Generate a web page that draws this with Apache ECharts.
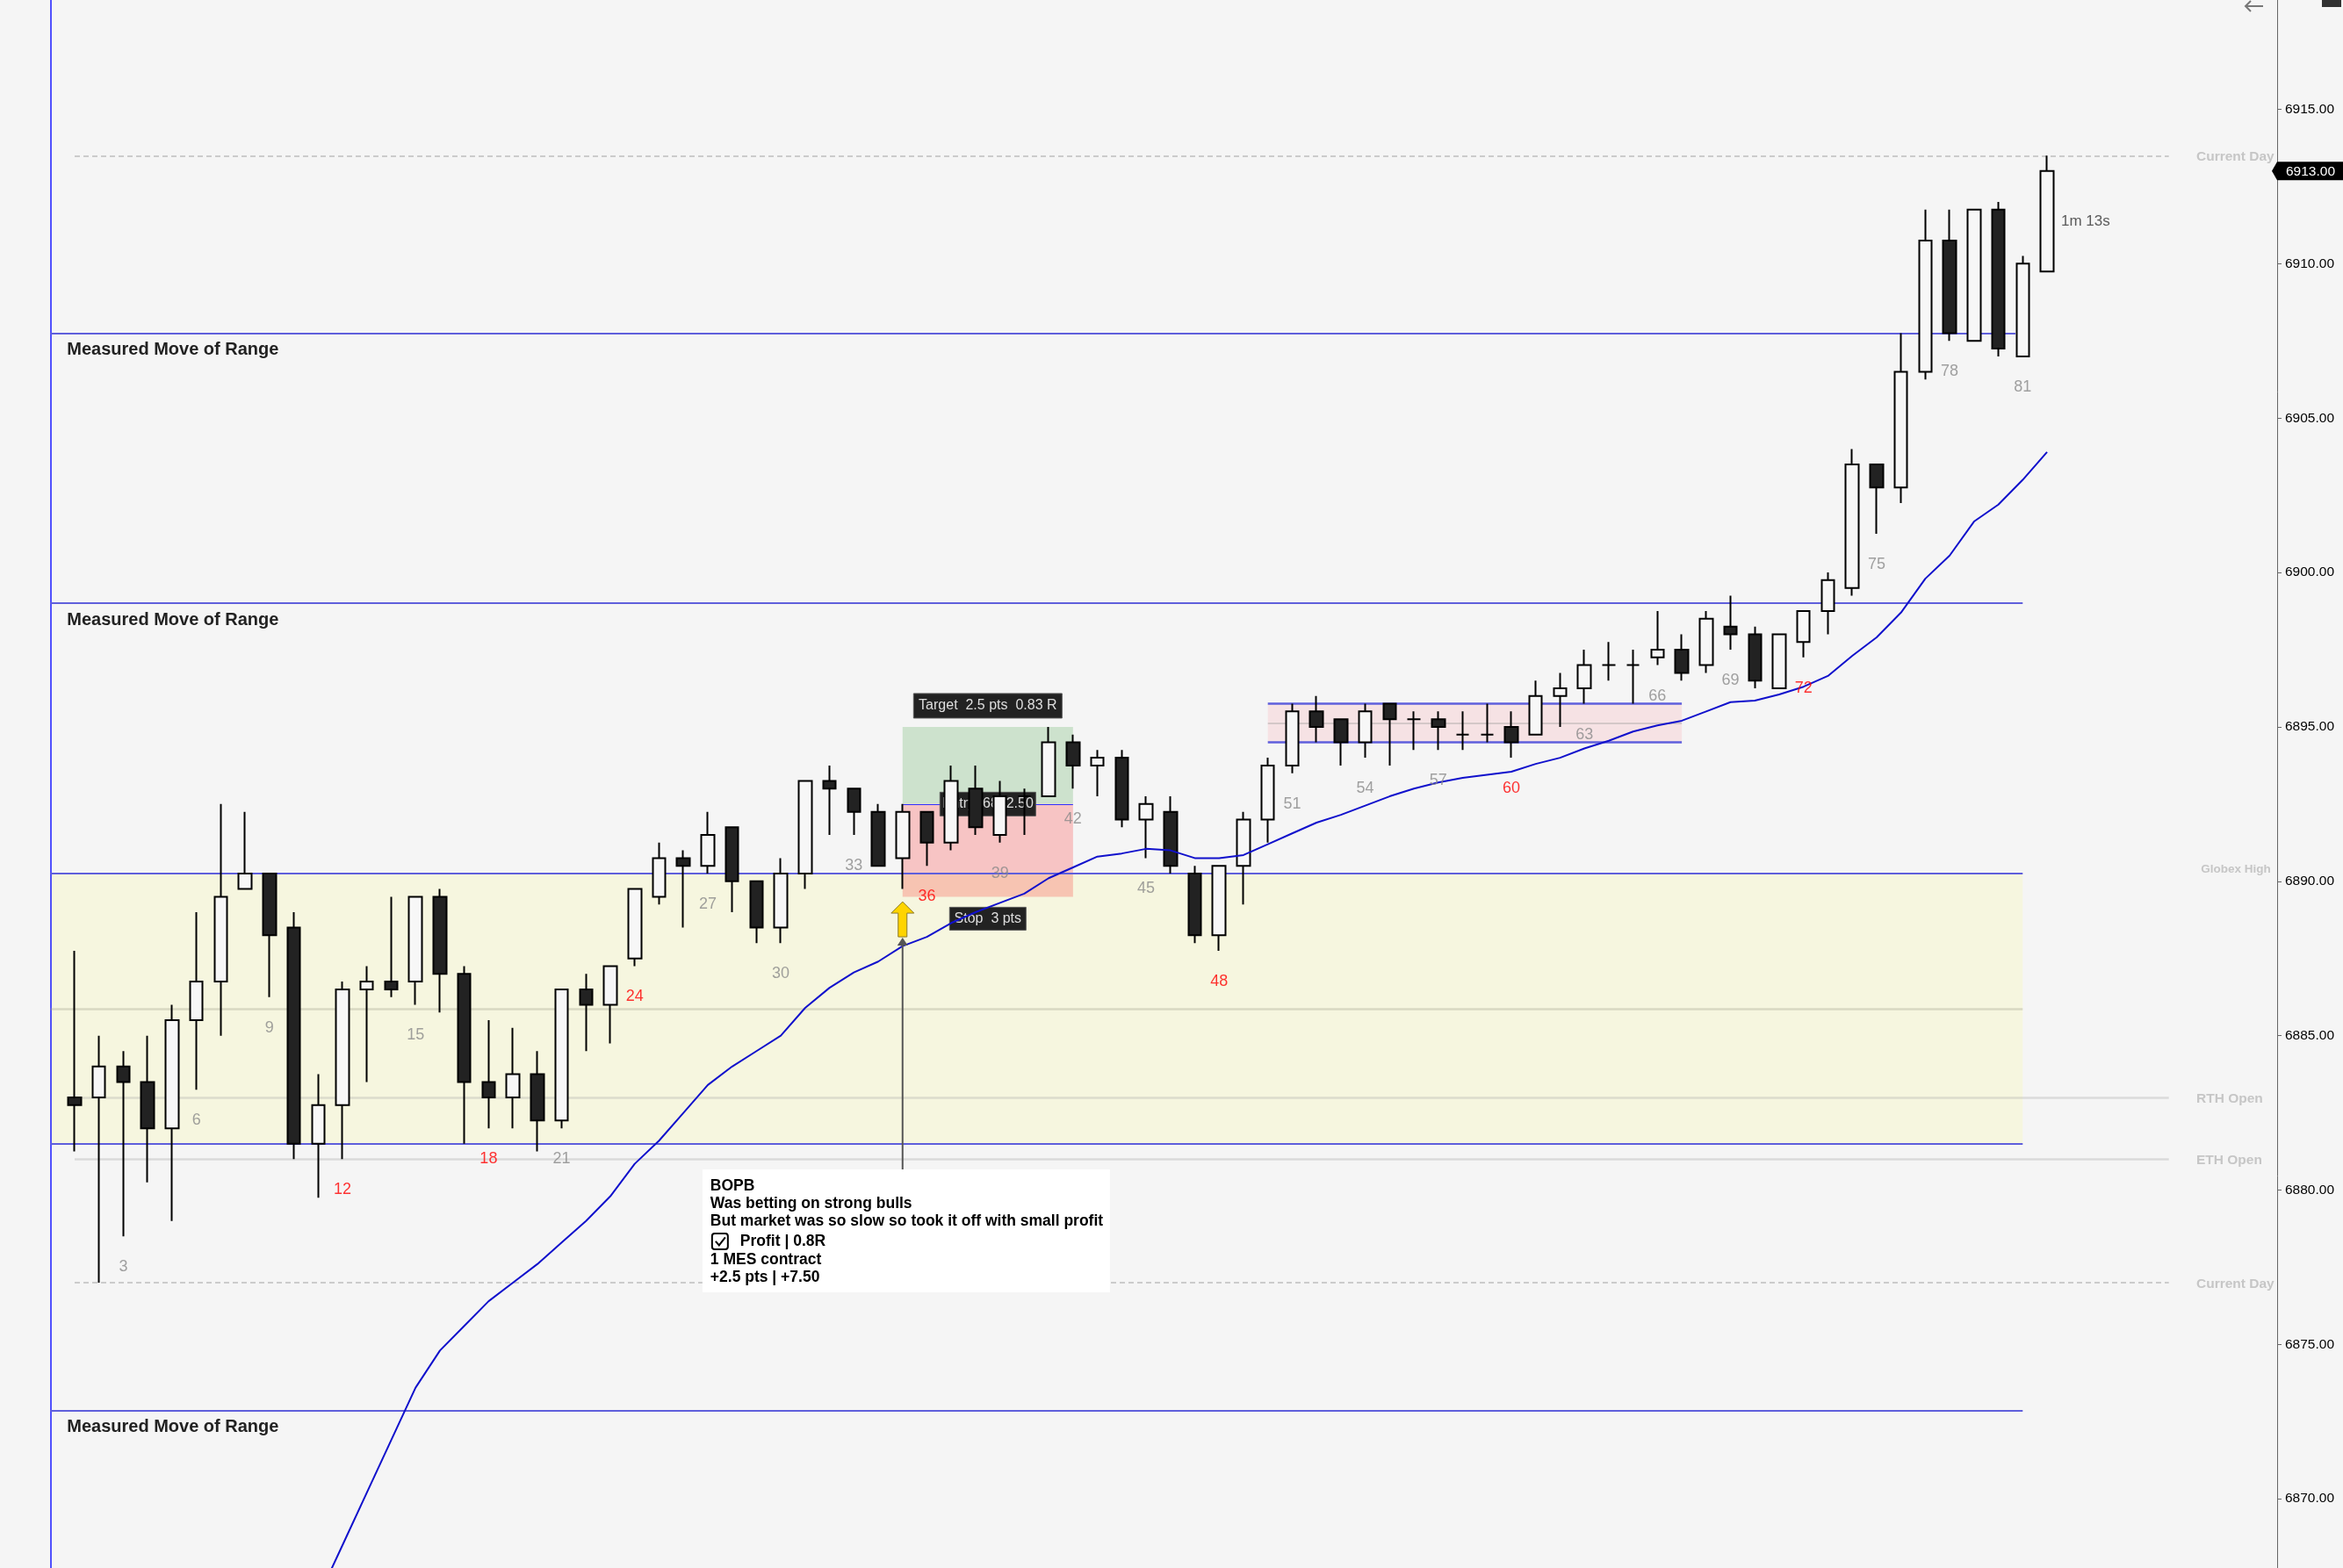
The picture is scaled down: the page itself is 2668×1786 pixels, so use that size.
<!DOCTYPE html>
<html><head><meta charset="utf-8">
<script src="https://cdn.jsdelivr.net/npm/echarts@6/dist/echarts.min.js"></script>
<style>html,body{margin:0;padding:0;background:#f5f5f5;}#c{width:2668px;height:1786px;}</style>
</head><body><div id="c"></div>
<script>
// ---------- DATA ----------
const opens  = [6883,6883,6884,6883.5,6882,6885.5,6886.75,6889.75,6890.25,6888.5,
  6881.5,6882.75,6886.5,6886.75,6886.75,6889.5,6887,6883.5,6883,6883.75,
  6882.25,6886.5,6886,6887.5,6889.5,6890.75,6890.5,6891.75,6890,6888.5,
  6890.25,6893.25,6893,6892.25,6890.75,6892.25,6891.25,6893,6891.5,6892.75,
  6892.75,6894.5,6893.75,6894,6892,6892.25,6890.25,6888.25,6890.5,6892,
  6893.75,6895.5,6895.25,6894.5,6895.75,6895.25,6895.25,6894.75,6894.75,6895,
  6894.75,6896,6896.25,6897,6897,6897.25,6897.5,6897,6898.25,6898,
  6896.25,6897.75,6898.75,6899.5,6903.5,6902.75,6906.5,6910.75,6907.5,6911.75,
  6907,6909.75];
const closes = [6882.75,6884,6883.5,6882,6885.5,6886.75,6889.5,6890.25,6888.25,6881.5,
  6882.75,6886.5,6886.75,6886.5,6889.5,6887,6883.5,6883,6883.75,6882.25,
  6886.5,6886,6887.25,6889.75,6890.75,6890.5,6891.5,6890,6888.5,6890.25,
  6893.25,6893,6892.25,6890.5,6892.25,6891.25,6893.25,6891.75,6892.75,6892.75,
  6894.5,6893.75,6894,6892,6892.5,6890.5,6888.25,6890.5,6892,6893.75,
  6895.5,6895,6894.5,6895.5,6895.25,6895.25,6895,6894.75,6894.75,6894.5,
  6896,6896.25,6897,6897,6897,6897.5,6896.75,6898.5,6898,6896.5,
  6898,6898.75,6899.75,6903.5,6902.75,6906.5,6910.75,6907.75,6911.75,6907.25,
  6910,6913];
const lows   = [6881.25,6877,6878.5,6880.25,6879,6883.25,6885,6889.75,6886.25,6881,
  6879.75,6881,6883.5,6886.25,6886,6885.75,6881.5,6882,6882,6881.25,
  6882,6884.5,6884.75,6887.25,6889.25,6888.5,6890.25,6889,6888,6888,
  6889.75,6891.5,6891.5,6890.5,6889.75,6890.5,6891,6891.5,6891.25,6891.5,
  6892.75,6893,6892.75,6891.75,6890.75,6890.25,6888,6887.75,6889.25,6891.25,
  6893.5,6894.5,6893.75,6894,6893.75,6894.25,6894.25,6894.25,6894.5,6894,
  6894.75,6895,6895.75,6896.5,6895.75,6897,6896.5,6896.75,6897.5,6896.25,
  6896.25,6897.25,6898,6899.25,6901.25,6902.25,6906.25,6907.5,6907.5,6907,
  6907,6909.75];
const highs  = [6887.75,6885,6884.5,6885,6886,6889,6892.5,6892.25,6890.25,6889,
  6883.75,6886.75,6887.25,6889.5,6889.5,6889.75,6887.25,6885.5,6885.25,6884.5,
  6886.5,6887,6887.25,6889.75,6891.25,6891,6892.25,6891.75,6890,6890.75,
  6893.25,6893.75,6893,6892.5,6892.5,6892.25,6893.75,6893.75,6893.25,6893,
  6895,6894.75,6894.25,6894.25,6892.75,6892.75,6890.5,6890.5,6892.25,6894,
  6895.75,6896,6895.25,6895.75,6895.75,6895.5,6895.5,6895.5,6895.75,6895.5,
  6896.5,6896.75,6897.5,6897.75,6897.5,6898.75,6898,6898.75,6899.25,6898.25,
  6898,6898.75,6900,6904,6903.5,6907.75,6911.75,6911.75,6911.75,6912,
  6910.25,6913.5];
const ema    = [null,null,null,null,null,null,null,null,null,6865.2,
  6866.8,6868.5,6870.2,6871.9,6873.6,6874.8,6875.6,6876.4,6877.0,6877.6,
  6878.3,6879.0,6879.8,6880.85,6881.6,6882.5,6883.4,6884.0,6884.5,6885.0,
  6885.9,6886.55,6887.05,6887.4,6887.9,6888.2,6888.65,6889.0,6889.3,6889.6,
  6890.1,6890.45,6890.8,6890.9,6891.05,6891.0,6890.75,6890.75,6890.85,6891.2,
  6891.55,6891.9,6892.15,6892.45,6892.75,6893.0,6893.2,6893.35,6893.45,6893.55,
  6893.8,6894.0,6894.3,6894.55,6894.85,6895.05,6895.2,6895.5,6895.8,6895.85,
  6896.05,6896.3,6896.65,6897.3,6897.9,6898.7,6899.8,6900.55,6901.65,6902.2,
  6903.0,6903.9];
const priceTicks = [6870, 6875, 6880, 6885, 6890, 6895, 6900, 6905, 6910, 6915];
const labelledBars = [3,6,9,12,15,18,21,24,27,30,33,36,39,42,45,48,51,54,57,60,63,66,69,72,75,78,81];
const redBars = [12,18,24,36,48,60,72];
const rangeLevels = [6890.25, 6881.5];       // opening range high / low
const rangeMid = 6885.875;
const mmLevels = [6907.75, 6899, 6872.85];    // measured moves
const globexHigh = 6890, rthOpen = 6883, ethOpen = 6881;
const currentDayLevels = [6913.5, 6877];
const boxLevels = [6895.75, 6894.5];          // tight trading range
const boxMid = 6895.125;
const tradeBars = [35, 42];
const tradeEntry = 6892.5, tradeTarget = 6895, tradeStop = 6889.5;
const lastPrice = 6913.00;
const timerText = '1m 13s';
const noteLines = ['BOPB','Was betting on strong bulls','But market was so slow so took it off with small profit','Profit | 0.8R','1 MES contract','+2.5 pts | +7.50'];

// ---------- CHART ----------
const FONT = '"Liberation Sans", Arial, sans-serif';
const chart = echarts.init(document.getElementById('c'), null, {width: 2668, height: 1786});
const candleData = opens.map((o, i) => [i + 1, o, closes[i], lows[i], highs[i]]);
const emaData = ema.map((v, i) => v == null ? null : [i + 1, v]).filter(Boolean);
const labelData = labelledBars.map(n => ({
  value: [n, lows[n - 1]], name: String(n),
  label: {color: redBars.includes(n) ? '#ff0000' : '#8a8a8a'}
}));
const RANGE_BLUE = '#5f5fdc';
function hl(y, x1, x2, style) { return [{coord: [x1, y], lineStyle: style}, {coord: [x2, y]}]; }
const blueStyle = {color: RANGE_BLUE, width: 2, type: 'solid'};
const markLines = [
  {xAxis: 0, lineStyle: {color: '#1a1aff', width: 1.5, type: 'solid'}},
  hl(rangeMid, 0, 81, {color: 'rgba(160,160,140,0.35)', width: 2.5, type: 'solid'}),
  hl(globexHigh, 0, 91.45, {color: 'rgba(150,150,140,0.55)', width: 2.5, type: 'solid'}),
  hl(rthOpen, 1, 87, {color: 'rgba(170,170,170,0.35)', width: 2.5, type: 'solid'}),
  hl(ethOpen, 1, 87, {color: 'rgba(170,170,170,0.35)', width: 2.5, type: 'solid'}),
  hl(currentDayLevels[0], 1, 87, {color: '#bdbdbd', width: 1.5, type: [6, 4]}),
  hl(currentDayLevels[1], 1, 87, {color: '#bdbdbd', width: 1.5, type: [6, 4]}),
  hl(boxMid, 50, 67, {color: 'rgba(150,150,150,0.35)', width: 2, type: 'solid'}),
  hl(rangeLevels[0], 0, 81, blueStyle),
  hl(rangeLevels[1], 0, 81, blueStyle),
  hl(mmLevels[0], 0, 80.7, blueStyle),
  hl(mmLevels[1], 0, 81, blueStyle),
  hl(mmLevels[2], 0, 81, blueStyle),
  hl(boxLevels[0], 50, 67, {color: RANGE_BLUE, width: 2.5, type: 'solid'}),
  hl(boxLevels[1], 50, 67, {color: RANGE_BLUE, width: 2.5, type: 'solid'}),
  hl(tradeEntry, tradeBars[0], tradeBars[1], {color: '#3030ff', width: 1, type: 'solid'})
];
const option = {
  backgroundColor: '#f5f5f5',
  animation: false,
  grid: {left: 0, right: 75, top: 0, bottom: 0},
  xAxis: {type: 'value', min: -2.065, max: 91.448, show: false, splitLine: {show: false}},
  yAxis: {
    type: 'value', position: 'right', min: 6867.76, max: 6918.54,
    axisLine: {show: true, onZero: false, lineStyle: {color: '#666', width: 1}},
    axisTick: {show: true, length: 5, customValues: priceTicks, lineStyle: {color: '#666'}},
    splitLine: {show: false},
    axisLabel: {margin: 9, color: '#000', fontSize: 15.5, fontFamily: FONT, customValues: priceTicks,
      showMinLabel: true, showMaxLabel: true, formatter: v => v.toFixed(2)}
  },
  series: [
    {
      type: 'line', data: [], z: 1, silent: true,
      markArea: {
        silent: true, z: 1, label: {show: false},
        data: [
          [{coord: [0, rangeLevels[0]], itemStyle: {color: '#f6f6df'}}, {coord: [81, rangeLevels[1]]}],
          [{coord: [50, boxLevels[0]], itemStyle: {color: '#f6e2e4'}}, {coord: [67, boxLevels[1]]}],
          [{coord: [tradeBars[0], tradeTarget], itemStyle: {color: 'rgba(0,128,0,0.16)'}}, {coord: [tradeBars[1], tradeEntry]}],
          [{coord: [tradeBars[0], tradeEntry], itemStyle: {color: 'rgba(255,0,0,0.2)'}}, {coord: [tradeBars[1], tradeStop]}]
        ]
      },
      markLine: {silent: true, z: 1.5, symbol: ['none', 'none'], label: {show: false}, data: markLines}
    },
    {
      type: 'candlestick', z: 3, data: candleData, barWidth: 15, silent: true,
      itemStyle: {color: '#f7f7f7', color0: '#222222', borderColor: '#000', borderColor0: '#000', borderWidth: 2}
    },
    {
      type: 'line', z: 4, data: emaData, symbol: 'none', silent: true,
      lineStyle: {color: '#1010cc', width: 2}
    },
    {
      type: 'scatter', z: 5, data: labelData, symbolSize: 1, silent: true,
      itemStyle: {color: 'rgba(0,0,0,0)'},
      label: {show: true, position: 'inside', offset: [0, 35], formatter: p => p.name,
        fontSize: 18, fontFamily: FONT, verticalAlign: 'middle', align: 'center'}
    },
    {
      type: 'scatter', z: 5, silent: true, symbolSize: 1, itemStyle: {color: 'rgba(0,0,0,0)'},
      data: [[82, (opens[81] + closes[81]) / 2]],
      label: {show: true, position: 'inside', offset: [16, 0], formatter: timerText, align: 'left',
        verticalAlign: 'middle', fontSize: 17, fontFamily: FONT, color: '#333'}
    }
  ]
};
chart.setOption(option);

// ---------- ANNOTATIONS positioned through the chart's scales ----------
function P(x, y) { return chart.convertToPixel({gridIndex: 0}, [x, y]); }
const g = [];
const bold = s => 'bold ' + s + 'px ' + FONT;
const reg = s => s + 'px ' + FONT;
mmLevels.forEach(l => {
  const p = P(0, l);
  g.push({type: 'text', z: 6, style: {text: 'Measured Move of Range', x: p[0] + 19, y: p[1] + 19,
    font: bold(20), fill: '#222', verticalAlign: 'middle', align: 'left'}});
});
const grey = '#c6c6c6';
{
  const p = P(91.19, globexHigh);
  g.push({type: 'text', z: 6, style: {text: 'Globex High', x: p[0], y: p[1] - 13.5, font: bold(13.5), fill: grey, align: 'right', verticalAlign: 'middle'}});
  [[rthOpen, 'RTH Open'], [ethOpen, 'ETH Open'], [currentDayLevels[0], 'Current Day'], [currentDayLevels[1], 'Current Day']].forEach(([l, t]) => {
    const q = P(88.13, l);
    g.push({type: 'text', z: 6, style: {text: t, x: q[0], y: q[1] + 1.5, font: bold(15.5), fill: grey, align: 'left', verticalAlign: 'middle'}});
  });
}
// trade labels
function tag(cx, cy, w, h, text) {
  g.push({type: 'rect', z: 2, shape: {x: cx - w / 2, y: cy - h / 2, width: w, height: h}, style: {fill: '#222', stroke: '#555', lineWidth: 1}});
  g.push({type: 'text', z: 2, style: {text: text, x: cx, y: cy, font: reg(16), fill: '#dedede', align: 'center', verticalAlign: 'middle'}});
}
const mid = (tradeBars[0] + tradeBars[1]) / 2;
{
  const pt = P(mid, tradeTarget), pe = P(mid, tradeEntry), ps = P(mid, tradeStop);
  tag(pt[0], pt[1] - 24, 169, 28, 'Target  2.5 pts  0.83 R');
  tag(pe[0], pe[1], 109, 27, 'Entry  6892.50');
  tag(ps[0], ps[1] + 25, 87, 26, 'Stop  3 pts');
}
// entry arrow and connector
{
  const a = P(tradeBars[0], lows[tradeBars[0] - 1]);
  const cx = a[0], t = a[1] + 14.5;
  const boxTopLeft = P(26.78, 6880.67);
  const bx = boxTopLeft[0], by = boxTopLeft[1];
  g.push({type: 'line', z: 6, shape: {x1: cx, y1: t + 44, x2: cx, y2: by}, style: {stroke: '#555', lineWidth: 2}});
  g.push({type: 'polygon', z: 6, shape: {points: [[cx, t + 41], [cx - 6, t + 50], [cx + 6, t + 50]]}, style: {fill: '#555'}});
  g.push({type: 'polygon', z: 6, shape: {points: [[cx, t], [cx - 13, t + 13], [cx - 5, t + 13], [cx - 5, t + 40], [cx + 5, t + 40], [cx + 5, t + 13], [cx + 13, t + 13]]},
    style: {fill: '#ffd400', stroke: '#8c7a2a', lineWidth: 1}});
  // note box
  g.push({type: 'rect', z: 6, shape: {x: bx, y: by, width: 464, height: 140}, style: {fill: '#ffffff'}});
  const offs = [19.7, 39.5, 59.5, 82, 103, 123];
  noteLines.forEach((t2, i) => {
    g.push({type: 'text', z: 7, style: {text: t2, x: bx + (i === 3 ? 43 : 9), y: by + offs[i], font: bold(17.5), fill: '#000', align: 'left', verticalAlign: 'middle'}});
  });
  g.push({type: 'rect', z: 7, shape: {x: bx + 11, y: by + 73, width: 18, height: 18, r: 3}, style: {fill: 'none', stroke: '#000', lineWidth: 2}});
  g.push({type: 'polyline', z: 7, shape: {points: [[bx + 15, by + 82], [bx + 19, by + 86.5], [bx + 26, by + 77.5]]}, style: {fill: 'none', stroke: '#000', lineWidth: 2}});
}
// last price tag
{
  const p = P(91.448, lastPrice);
  const x0 = p[0], yc = p[1];
  g.push({type: 'polygon', z: 10, shape: {points: [[x0 - 6, yc], [x0, yc - 10.5], [2668, yc - 10.5], [2668, yc + 10.5], [x0, yc + 10.5]]}, style: {fill: '#000'}});
  g.push({type: 'text', z: 11, style: {text: lastPrice.toFixed(2), x: x0 + 10, y: yc + 0.5, font: reg(15.5), fill: '#fff', align: 'left', verticalAlign: 'middle'}});
}
// top-right widgets
g.push({type: 'polyline', z: 10, shape: {points: [[2563, 1], [2557, 7], [2563, 13]]}, style: {fill: 'none', stroke: '#777', lineWidth: 2}});
g.push({type: 'line', z: 10, shape: {x1: 2557, y1: 7, x2: 2577, y2: 7}, style: {stroke: '#777', lineWidth: 2}});
g.push({type: 'rect', z: 10, shape: {x: 2644, y: 0, width: 22, height: 8}, style: {fill: '#333'}});
chart.setOption({graphic: {elements: g}});
</script></body></html>
